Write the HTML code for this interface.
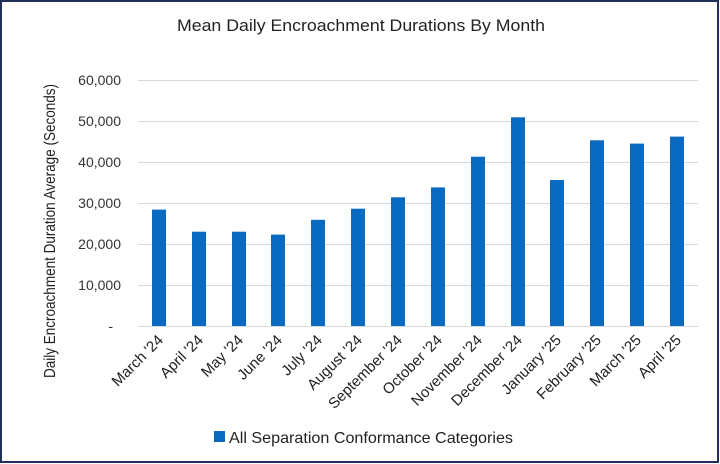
<!DOCTYPE html>
<html><head><meta charset="utf-8"><style>
body{margin:0;background:#fff}
svg{display:block;font-family:"Liberation Sans",sans-serif}
</style></head><body>
<svg width="720" height="464" viewBox="0 0 720 464">
<rect x="1" y="1" width="717" height="461" fill="#fff" stroke="#1f2f5a" stroke-width="2"/>
<text x="177" y="31" font-size="17" fill="#222" textLength="368" lengthAdjust="spacingAndGlyphs">Mean Daily Encroachment Durations By Month</text>
<g stroke="#d9d9d9" stroke-width="1">
<line x1="138" x2="698" y1="80.5" y2="80.5"/>
<line x1="138" x2="698" y1="121.5" y2="121.5"/>
<line x1="138" x2="698" y1="162.5" y2="162.5"/>
<line x1="138" x2="698" y1="203.5" y2="203.5"/>
<line x1="138" x2="698" y1="244.5" y2="244.5"/>
<line x1="138" x2="698" y1="285.5" y2="285.5"/>
<line x1="138" x2="698" y1="326.5" y2="326.5"/>
</g>
<g font-size="14" fill="#333" text-anchor="end">
<text x="121" y="85">60,000</text>
<text x="121" y="126">50,000</text>
<text x="121" y="167">40,000</text>
<text x="121" y="208">30,000</text>
<text x="121" y="249">20,000</text>
<text x="121" y="290">10,000</text>
<text x="113" y="331">-</text>
</g>
<text transform="translate(55,378) rotate(-90)" font-size="16" fill="#222" textLength="294" lengthAdjust="spacingAndGlyphs">Daily Encroachment Duration Average (Seconds)</text>
<g fill="#0a6abf">
<rect x="152" y="209.6" width="14" height="116.4"/>
<rect x="192" y="231.7" width="14" height="94.3"/>
<rect x="232" y="231.7" width="14" height="94.3"/>
<rect x="271" y="234.6" width="14" height="91.4"/>
<rect x="311" y="219.8" width="14" height="106.2"/>
<rect x="351" y="208.7" width="14" height="117.3"/>
<rect x="391" y="197.3" width="14" height="128.7"/>
<rect x="431" y="187.4" width="14" height="138.6"/>
<rect x="471" y="156.7" width="14" height="169.3"/>
<rect x="511" y="117.3" width="14" height="208.7"/>
<rect x="550" y="180.0" width="14" height="146.0"/>
<rect x="590" y="140.3" width="14" height="185.7"/>
<rect x="630" y="143.6" width="14" height="182.4"/>
<rect x="670" y="136.6" width="14" height="189.4"/>
</g>
<g font-size="15" fill="#222" text-anchor="end">
<text transform="translate(164,341) rotate(-45)">March '24</text>
<text transform="translate(204,341) rotate(-45)">April '24</text>
<text transform="translate(244,341) rotate(-45)">May '24</text>
<text transform="translate(283,341) rotate(-45)">June '24</text>
<text transform="translate(323,341) rotate(-45)">July '24</text>
<text transform="translate(363,341) rotate(-45)">August '24</text>
<text transform="translate(403,341) rotate(-45)">September '24</text>
<text transform="translate(443,341) rotate(-45)">October '24</text>
<text transform="translate(483,341) rotate(-45)">November '24</text>
<text transform="translate(523,341) rotate(-45)">December '24</text>
<text transform="translate(562,341) rotate(-45)">January '25</text>
<text transform="translate(602,341) rotate(-45)">February '25</text>
<text transform="translate(642,341) rotate(-45)">March '25</text>
<text transform="translate(682,341) rotate(-45)">April '25</text>
</g>
<rect x="214" y="431" width="11" height="11" fill="#0a6abf"/>
<text x="229" y="443" font-size="16" fill="#222" textLength="284" lengthAdjust="spacingAndGlyphs">All Separation Conformance Categories</text>
</svg>
</body></html>
